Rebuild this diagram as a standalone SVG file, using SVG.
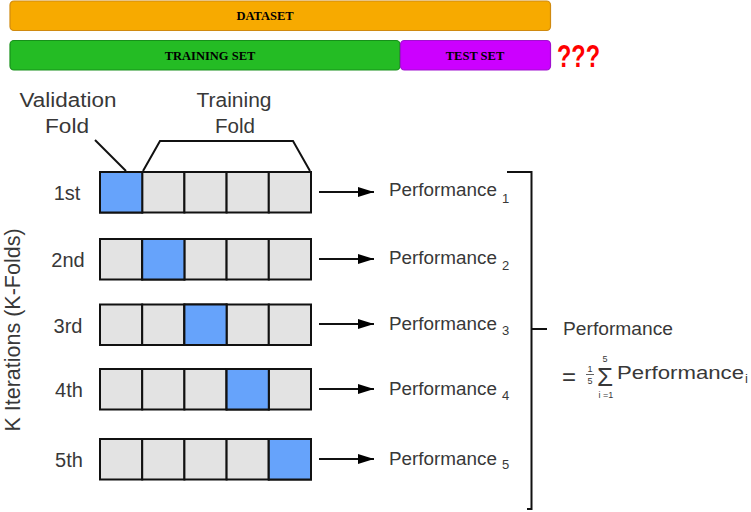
<svg xmlns="http://www.w3.org/2000/svg" width="751" height="512" viewBox="0 0 751 512">
<style>
.bar{stroke-width:1.2}
.bt{font-family:"Liberation Serif",serif;font-weight:bold;font-size:12.5px;fill:#000;text-anchor:middle}
.cell{fill:#e3e3e3;stroke:#111;stroke-width:2}
.val{fill:#66a3fb;stroke:#111;stroke-width:2}
.lbl{font-family:"Liberation Sans",Arial,sans-serif;font-size:20px;fill:#383838;text-anchor:middle}
.perf{font-family:"Liberation Sans",Arial,sans-serif;font-size:17.5px;fill:#383838}
.sub{font-family:"Liberation Sans",Arial,sans-serif;font-size:13px;fill:#383838}
.ln{stroke:#111;stroke-width:2;fill:none}
.tiny{font-family:"Liberation Sans",Arial,sans-serif;font-size:9px;fill:#383838;text-anchor:middle}
</style>
<defs>
<marker id="ah" markerWidth="16" markerHeight="11" refX="16" refY="5.5" orient="auto" markerUnits="userSpaceOnUse" viewBox="0 0 16 11">
<path d="M0,0.5 L16,5.5 L0,10.5 Z" fill="#000"/>
</marker>
<g id="row">
<rect class="cell" x="100" y="0" width="42.2" height="40.5"/>
<rect class="cell" x="142.2" y="0" width="42.2" height="40.5"/>
<rect class="cell" x="184.4" y="0" width="42.2" height="40.5"/>
<rect class="cell" x="226.6" y="0" width="42.2" height="40.5"/>
<rect class="cell" x="268.8" y="0" width="42.2" height="40.5"/>
</g>
</defs>
<rect width="751" height="512" fill="#fff"/>

<g id="dataset">
<rect class="bar" x="10" y="1" width="540.5" height="29.5" rx="4" fill="#f7aa00" stroke="#d08a10"/>
<text class="bt" x="265" y="20">DATASET</text>
</g>
<g id="training-set">
<rect class="bar" x="10" y="40.5" width="390" height="29.5" rx="4" fill="#24bc24" stroke="#16901a"/>
<text class="bt" x="210" y="59.5">TRAINING SET</text>
</g>
<g id="test-set">
<rect class="bar" x="400.5" y="40.5" width="150" height="29.5" rx="4" fill="#cc00ff" stroke="#a010d0"/>
<text class="bt" x="475" y="59.5">TEST SET</text>
</g>
<g id="question">
<text x="557" y="67" font-family="Liberation Sans,Arial,sans-serif" font-weight="bold" font-size="32" fill="#ff0000" textLength="43" lengthAdjust="spacingAndGlyphs">???</text>
</g>

<g id="axis-label">
<text transform="translate(19.5,330) rotate(-90)" font-family="Liberation Sans,Arial,sans-serif" font-size="21.5" fill="#383838" text-anchor="middle">K Iterations (K-Folds)</text>
</g>

<g id="fold-labels">
<text class="lbl" x="68" y="107" textLength="97" lengthAdjust="spacingAndGlyphs">Validation</text>
<text class="lbl" x="67" y="133" textLength="44" lengthAdjust="spacingAndGlyphs">Fold</text>
<text class="lbl" x="234" y="107" textLength="75" lengthAdjust="spacingAndGlyphs">Training</text>
<text class="lbl" x="235" y="133" textLength="40" lengthAdjust="spacingAndGlyphs">Fold</text>
</g>

<g id="row1">
<text class="lbl" x="67" y="200">1st</text>
<use href="#row" y="172"/>
<rect class="val" x="100" y="172" width="42.2" height="40.5"/>
</g>
<g id="row2">
<text class="lbl" x="68" y="267">2nd</text>
<use href="#row" y="239"/>
<rect class="val" x="142.2" y="239" width="42.2" height="40.5"/>
</g>
<g id="row3">
<text class="lbl" x="68" y="333">3rd</text>
<use href="#row" y="304.5"/>
<rect class="val" x="184.4" y="304.5" width="42.2" height="40.5"/>
</g>
<g id="row4">
<text class="lbl" x="69" y="397">4th</text>
<use href="#row" y="369"/>
<rect class="val" x="226.6" y="369" width="42.2" height="40.5"/>
</g>
<g id="row5">
<text class="lbl" x="69" y="467">5th</text>
<use href="#row" y="439"/>
<rect class="val" x="268.8" y="439" width="42.2" height="40.5"/>
</g>

<g id="perf1"><text class="perf" x="389" y="196" textLength="108" lengthAdjust="spacingAndGlyphs">Performance</text><text class="sub" x="502" y="203">1</text></g>
<g id="perf2"><text class="perf" x="389" y="264" textLength="108" lengthAdjust="spacingAndGlyphs">Performance</text><text class="sub" x="502" y="270">2</text></g>
<g id="perf3"><text class="perf" x="389" y="330" textLength="108" lengthAdjust="spacingAndGlyphs">Performance</text><text class="sub" x="502" y="335">3</text></g>
<g id="perf4"><text class="perf" x="389" y="395" textLength="108" lengthAdjust="spacingAndGlyphs">Performance</text><text class="sub" x="502" y="400">4</text></g>
<g id="perf5"><text class="perf" x="389" y="465" textLength="108" lengthAdjust="spacingAndGlyphs">Performance</text><text class="sub" x="502" y="469">5</text></g>

<g id="average">
<text class="perf" x="563" y="335" textLength="110" lengthAdjust="spacingAndGlyphs">Performance</text>
<text x="562" y="385" font-family="Liberation Sans,Arial,sans-serif" font-size="24" fill="#383838">=</text>
<text class="tiny" x="590" y="372" font-size="10">1</text>
<line x1="586" y1="374.5" x2="594" y2="374.5" stroke="#383838" stroke-width="0.8"/>
<text class="tiny" x="590" y="384" font-size="10">5</text>
<text class="tiny" x="605" y="362">5</text>
<text x="605" y="386" font-family="Liberation Sans,Arial,sans-serif" font-size="26" fill="#383838" text-anchor="middle">Σ</text>
<text class="tiny" x="606" y="398" font-size="8">i =1</text>
<text class="perf" x="617" y="379" font-size="18.5" textLength="127" lengthAdjust="spacingAndGlyphs">Performance</text>
<text class="sub" x="745" y="383" font-size="11">i</text>
</g>

<g id="connectors">
<path class="ln" d="M95,140 L126,171"/>
<path class="ln" d="M143,171 L160,141 L293,141 L310,171"/>
<line class="ln" x1="319" y1="192" x2="374" y2="192" marker-end="url(#ah)"/>
<line class="ln" x1="319" y1="259" x2="374" y2="259" marker-end="url(#ah)"/>
<line class="ln" x1="319" y1="324" x2="374" y2="324" marker-end="url(#ah)"/>
<line class="ln" x1="319" y1="389" x2="374" y2="389" marker-end="url(#ah)"/>
<line class="ln" x1="319" y1="459" x2="374" y2="459" marker-end="url(#ah)"/>
<path class="ln" d="M507,172 L531.5,172 L531.5,509 L527,509"/>
<line class="ln" x1="531.5" y1="329" x2="547" y2="329"/>
</g>
</svg>
